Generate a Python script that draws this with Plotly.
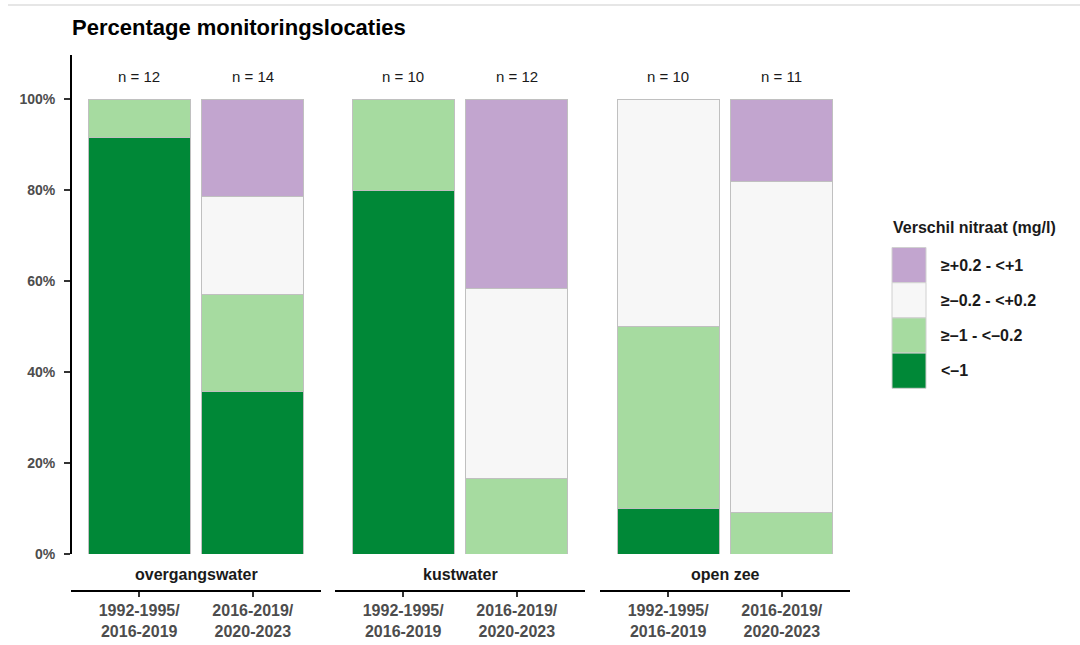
import plotly.graph_objects as go

# ---- data ----
facets = ["overgangswater", "kustwater", "open zee"]
periods = ["1992-1995/<br>2016-2019", "2016-2019/<br>2020-2023"]
n_counts = [[12, 14], [10, 12], [10, 11]]
categories = ["<–1", "≥–1 - <–0.2", "≥–0.2 - <+0.2", "≥+0.2 - <+1"]
colors = ["#008837", "#a6dba0", "#f7f7f7", "#c2a5cf"]
# counts per facet, per category (bottom to top), per period
counts = {
    "overgangswater": [[11, 5], [1, 3], [0, 3], [0, 3]],
    "kustwater":      [[8, 0], [2, 2], [0, 5], [0, 5]],
    "open zee":       [[1, 0], [4, 1], [5, 8], [0, 2]],
}
yticks = [0, 20, 40, 60, 80, 100]
legend_title = "Verschil nitraat (mg/l)"
title = "Percentage monitoringslocaties"

W, H = 1080, 645
L, R, T, B = 71, 850, 55, 591
pw, ph = R - L, B - T
y0px = 554
FONT = "Liberation Sans, Arial, sans-serif"

def px_x(x):
    return (x - L) / pw

def px_y(y):
    return (B - y) / ph

fig = go.Figure()
facet_px = [(71, 321), (335, 585), (600, 850)]

for i, f in enumerate(facets):
    xa = "x" if i == 0 else f"x{i+1}"
    for c, cat in enumerate(categories):
        vals = [counts[f][c][j] / n_counts[i][j] * 100 for j in range(2)]
        fig.add_trace(go.Bar(
            x=periods, y=vals, xaxis=xa, yaxis="y",
            marker=dict(color=colors[c], line=dict(color="#c0c0c0", width=1)),
            name=cat, showlegend=False, hoverinfo="skip",
        ))
    for j in range(2):
        fig.add_annotation(x=periods[j], y=105, xref=xa, yref="y",
                           xanchor="center", yanchor="middle",
                           text=f"n = {n_counts[i][j]}", showarrow=False,
                           font=dict(size=15, color="#1a1a1a"))
    a, b = facet_px[i]
    fig.add_annotation(x=px_x((a + b) / 2), y=px_y(574), xref="paper", yref="paper",
                       xanchor="center", yanchor="middle",
                       text=f"<b>{f}</b>", showarrow=False,
                       font=dict(size=16, color="#1a1a1a"))
    axis = dict(
        domain=[px_x(a), px_x(b)], range=[-0.6, 1.6], type="category",
        anchor="free", position=0, showline=True, linecolor="black", linewidth=2,
        ticks="outside", ticklen=5, tickwidth=2, tickcolor="#333333",
        tickfont=dict(size=16, color="#4d4d4d", family=FONT),
        tickvals=periods, ticktext=[f"<b>{p}</b>" for p in periods],
        showgrid=False, zeroline=False, fixedrange=True, automargin=False,
    )
    key = "xaxis" if i == 0 else f"xaxis{i+1}"
    fig.update_layout(**{key: axis})

fig.update_layout(
    barmode="stack", bargap=0.1,
    width=W, height=H,
    margin=dict(l=L, r=W - R, t=T, b=H - B, pad=0, autoexpand=False),
    plot_bgcolor="white", paper_bgcolor="white",
    font=dict(family=FONT, color="#1a1a1a"),
    yaxis=dict(
        domain=[px_y(y0px), 1], range=[0, 109.7],
        tickvals=yticks, ticktext=[f"<b>{v}%</b>" for v in yticks],
        tickfont=dict(size=14, color="#4d4d4d", family=FONT),
        showline=True, linecolor="black", linewidth=2,
        ticks="outside", ticklen=6, tickwidth=2, tickcolor="#333333",
        ticklabelstandoff=6,
        showgrid=False, zeroline=False, anchor="free", position=0,
        automargin=False,
    ),
    showlegend=False,
)

# title
fig.add_annotation(x=px_x(70), y=px_y(28), xref="paper", yref="paper",
                   xanchor="left", yanchor="middle", text=f"<b>{title}</b>",
                   showarrow=False, font=dict(size=22, color="black"))
# top rule
fig.add_shape(type="line", xref="paper", yref="paper",
              x0=px_x(8), x1=px_x(1080), y0=px_y(5), y1=px_y(5),
              line=dict(color="#dedede", width=1.5))

# custom legend
fig.add_annotation(x=px_x(891), y=px_y(228), xref="paper", yref="paper",
                   xanchor="left", yanchor="middle", text=f"<b>{legend_title}</b>",
                   showarrow=False, font=dict(size=16, color="#1a1a1a"))
key_top = 247.5
kh = 35.2
for k, c in enumerate(reversed(range(len(categories)))):
    ytop = key_top + k * kh
    fig.add_shape(type="rect", xref="paper", yref="paper",
                  x0=px_x(892), x1=px_x(926), y0=px_y(ytop + kh), y1=px_y(ytop),
                  fillcolor=colors[c], line=dict(color="#d0d0d0", width=1))
    fig.add_annotation(x=px_x(939), y=px_y(ytop + kh / 2), xref="paper", yref="paper",
                       xanchor="left", yanchor="middle", text=f"<b>{categories[c]}</b>",
                       showarrow=False, font=dict(size=16, color="#1a1a1a"))

fig.write_html("out.html", config={"displayModeBar": False},
               post_script="document.body.style.margin='0px';")
